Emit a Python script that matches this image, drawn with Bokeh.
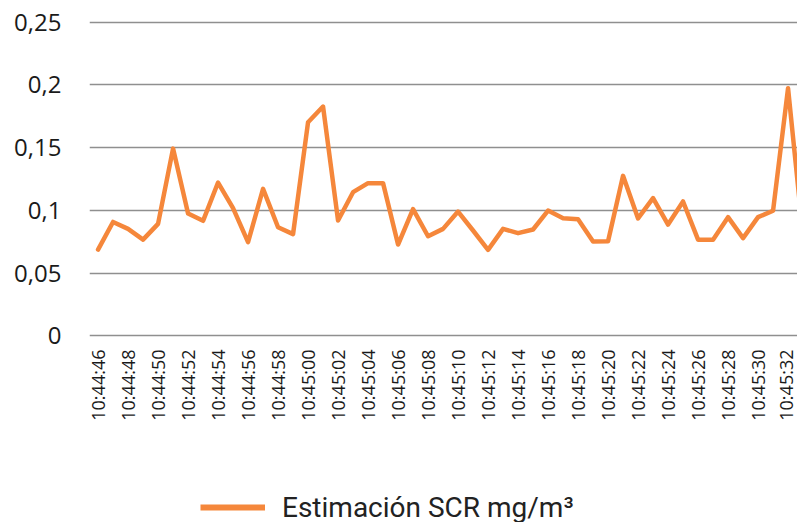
import math
from bokeh.plotting import figure
from bokeh.layouts import column
from bokeh.models import Range1d, FixedTicker, Legend, LegendItem
from bokeh.embed import file_html
from bokeh.resources import INLINE

# ---- data -------------------------------------------------------------
times = [
    "10:44:46", "10:44:47", "10:44:48", "10:44:49", "10:44:50", "10:44:51",
    "10:44:52", "10:44:53", "10:44:54", "10:44:55", "10:44:56", "10:44:57",
    "10:44:58", "10:44:59", "10:45:00", "10:45:01", "10:45:02", "10:45:03",
    "10:45:04", "10:45:05", "10:45:06", "10:45:07", "10:45:08", "10:45:09",
    "10:45:10", "10:45:11", "10:45:12", "10:45:13", "10:45:14", "10:45:15",
    "10:45:16", "10:45:17", "10:45:18", "10:45:19", "10:45:20", "10:45:21",
    "10:45:22", "10:45:23", "10:45:24", "10:45:25", "10:45:26", "10:45:27",
    "10:45:28", "10:45:29", "10:45:30", "10:45:31", "10:45:32", "10:45:33",
]

scr_values = [
    0.0688, 0.0908, 0.0853, 0.0767, 0.0893, 0.1492, 0.0975, 0.0917,
    0.1222, 0.1018, 0.0747, 0.1171, 0.0866, 0.0811, 0.1702, 0.1827,
    0.0920, 0.1145, 0.1217, 0.1217, 0.0728, 0.1010, 0.0794, 0.0853,
    0.0991, 0.0840, 0.0686, 0.0853, 0.0819, 0.0848, 0.0999, 0.0938,
    0.0930, 0.0753, 0.0754, 0.1275, 0.0936, 0.1098, 0.0887, 0.1071,
    0.0767, 0.0767, 0.0946, 0.0779, 0.0946, 0.0997, 0.1972, 0.0800,
]

x_tick_positions = list(range(0, 47, 2))
x_tick_labels = [times[i] for i in x_tick_positions]

y_ticks = [0.0, 0.05, 0.1, 0.15, 0.2, 0.25]
y_tick_labels = ["0", "0,05", "0,1", "0,15", "0,2", "0,25"]

series_name = "Estimación SCR mg/m³"

# ---- main figure ------------------------------------------------------
ORANGE = "#F5873B"
xs = list(range(len(scr_values)))

p = figure(
    width=797, height=460,
    output_backend="svg", toolbar_location=None,
    x_range=Range1d(-0.57, 46.63), y_range=Range1d(-0.002, 0.2512),
    min_border_left=89, min_border_right=0,
    min_border_top=20, min_border_bottom=122,
)
p.outline_line_color = None
p.background_fill_color = "white"
p.border_fill_color = "white"

r = p.line(xs, scr_values, line_color=ORANGE, line_width=4.5,
           line_join="round", line_cap="round")

# grid
p.xgrid.visible = False
p.ygrid.ticker = FixedTicker(ticks=y_ticks)
p.ygrid.grid_line_color = "#8f8f8f"
p.ygrid.grid_line_width = 1.6

# y axis
ya = p.yaxis[0]
ya.ticker = FixedTicker(ticks=y_ticks)
ya.major_label_overrides = {t: lab for t, lab in zip(y_ticks, y_tick_labels)}
ya.axis_line_color = None
ya.major_tick_line_color = None
ya.minor_tick_line_color = None
ya.major_tick_in = 0
ya.major_tick_out = 0
ya.minor_tick_out = 0
ya.major_label_standoff = 28
ya.major_label_text_font = "Open Sans"
ya.major_label_text_font_size = "24px"
ya.major_label_text_color = "#1a1a1a"

# x axis
xa = p.xaxis[0]
xa.ticker = FixedTicker(ticks=x_tick_positions)
xa.major_label_overrides = {t: lab for t, lab in zip(x_tick_positions, x_tick_labels)}
xa.major_label_orientation = math.pi / 2
xa.axis_line_color = None
xa.major_tick_line_color = None
xa.minor_tick_line_color = None
xa.major_tick_in = 0
xa.major_tick_out = 0
xa.minor_tick_out = 0
xa.major_label_standoff = 11
xa.major_label_text_font = "Open Sans"
xa.major_label_text_font_size = "18px"
xa.major_label_text_color = "#1a1a1a"

# ---- legend strip -----------------------------------------------------
lg = figure(
    width=797, height=62,
    output_backend="svg", toolbar_location=None,
    x_range=Range1d(-0.57, 46.63), y_range=Range1d(1, 2),
    min_border=0,
)
lg.axis.visible = False
lg.grid.visible = False
lg.outline_line_color = None
lg.border_fill_color = "white"
# same series, lying outside this strip's view: it only feeds the legend
r2 = lg.line(xs, scr_values, line_color=ORANGE, line_width=6)

legend = Legend(
    items=[LegendItem(label=series_name, renderers=[r2])],
    location=(111, -2),
    orientation="horizontal",
    glyph_width=65, glyph_height=34, label_height=34,
    label_standoff=17, padding=0, margin=0, spacing=0,
    label_text_font="Roboto", label_text_font_size="28px",
    label_text_color="#222222",
    border_line_color=None, background_fill_alpha=0,
)
lg.add_layout(legend, "center")

layout = column(p, lg, spacing=0)
open("out.html", "w").write(file_html(layout, INLINE))
